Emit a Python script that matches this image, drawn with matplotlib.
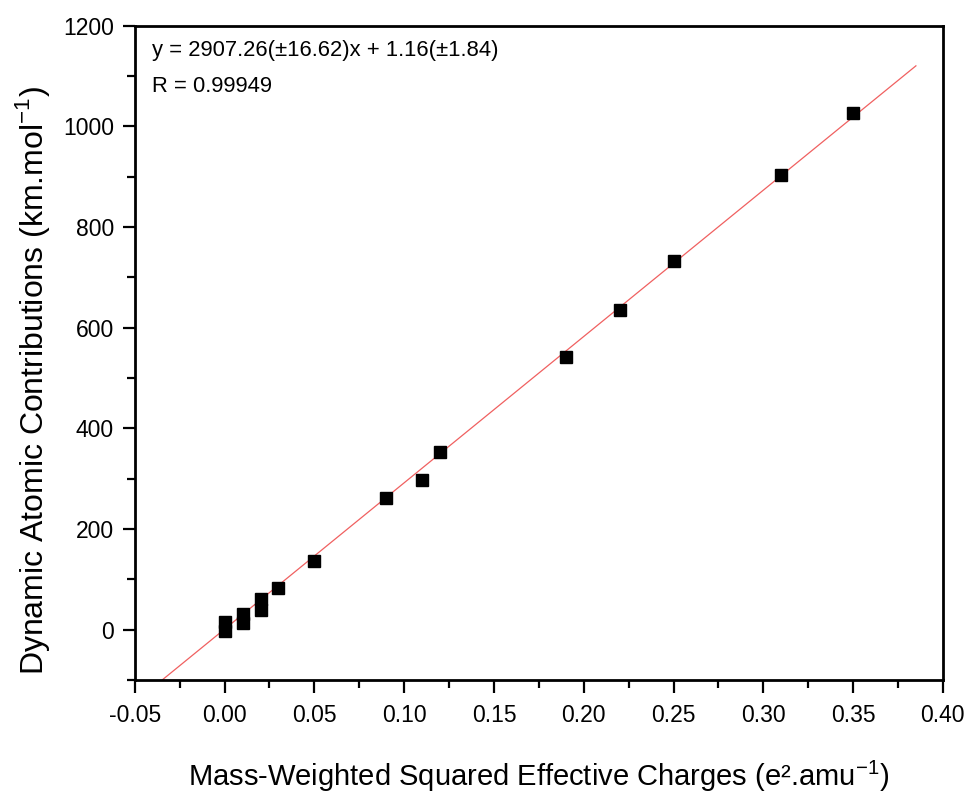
import numpy as np
import matplotlib
matplotlib.use('Agg')
import matplotlib.pyplot as plt
from matplotlib.ticker import MultipleLocator

plt.rcParams['font.family'] = ['Liberation Sans', 'DejaVu Sans']
plt.rcParams['mathtext.fontset'] = 'custom'
plt.rcParams['mathtext.rm'] = 'Liberation Sans'

# data
charge = [0.00, 0.00, 0.01, 0.01, 0.02, 0.02, 0.03, 0.05, 0.09, 0.11, 0.12,
          0.19, 0.22, 0.25, 0.31, 0.35]
contrib = [15, -2, 31, 13, 61, 40, 82, 136, 262, 298, 354,
           542, 635, 733, 903, 1027]
slope, intercept = 2907.26, 1.16
fit_range = [-0.0352, 0.385]

fig = plt.figure(figsize=(9.7, 7.92), dpi=100)
ax = fig.add_axes([0.139, 0.1414, 0.833, 0.826])

x_fit = np.array(fit_range)
ax.plot(x_fit, slope * x_fit + intercept, color='#f06060', lw=0.9, zorder=2)
ax.plot(charge, contrib, linestyle='None', marker='s', markersize=8,
        color='black', zorder=3)

ax.set_xlim(-0.05, 0.40)
ax.set_ylim(-100, 1200)
ax.xaxis.set_major_locator(MultipleLocator(0.05))
ax.xaxis.set_minor_locator(MultipleLocator(0.025))
ax.yaxis.set_major_locator(MultipleLocator(200))
ax.yaxis.set_minor_locator(MultipleLocator(100))
ax.xaxis.set_major_formatter(plt.FuncFormatter(lambda v, p: '%.2f' % v))

ax.tick_params(which='both', direction='out', top=False, right=False,
               width=1.6, labelsize=16.5)
ax.tick_params(which='major', length=9, pad=6)
ax.tick_params(axis='x', which='major', pad=8)
ax.tick_params(which='minor', length=5.5)
for s in ax.spines.values():
    s.set_linewidth(2)

ax.set_xlabel('Mass-Weighted Squared Effective Charges (e\u00b2.amu$^{-1}$)',
              fontsize=21, labelpad=23)
fig.text(0.033, 0.52, 'Dynamic Atomic Contributions (km.mol$^{-1}$)',
         rotation=90, ha='center', va='center', fontsize=23)

ax.text(0.021, 0.963, 'y = 2907.26(\u00b116.62)x + 1.16(\u00b11.84)',
        transform=ax.transAxes, fontsize=15.8, va='center')
ax.text(0.021, 0.908, 'R = 0.99949', transform=ax.transAxes,
        fontsize=15.8, va='center')

plt.savefig('out.png', dpi=100)
